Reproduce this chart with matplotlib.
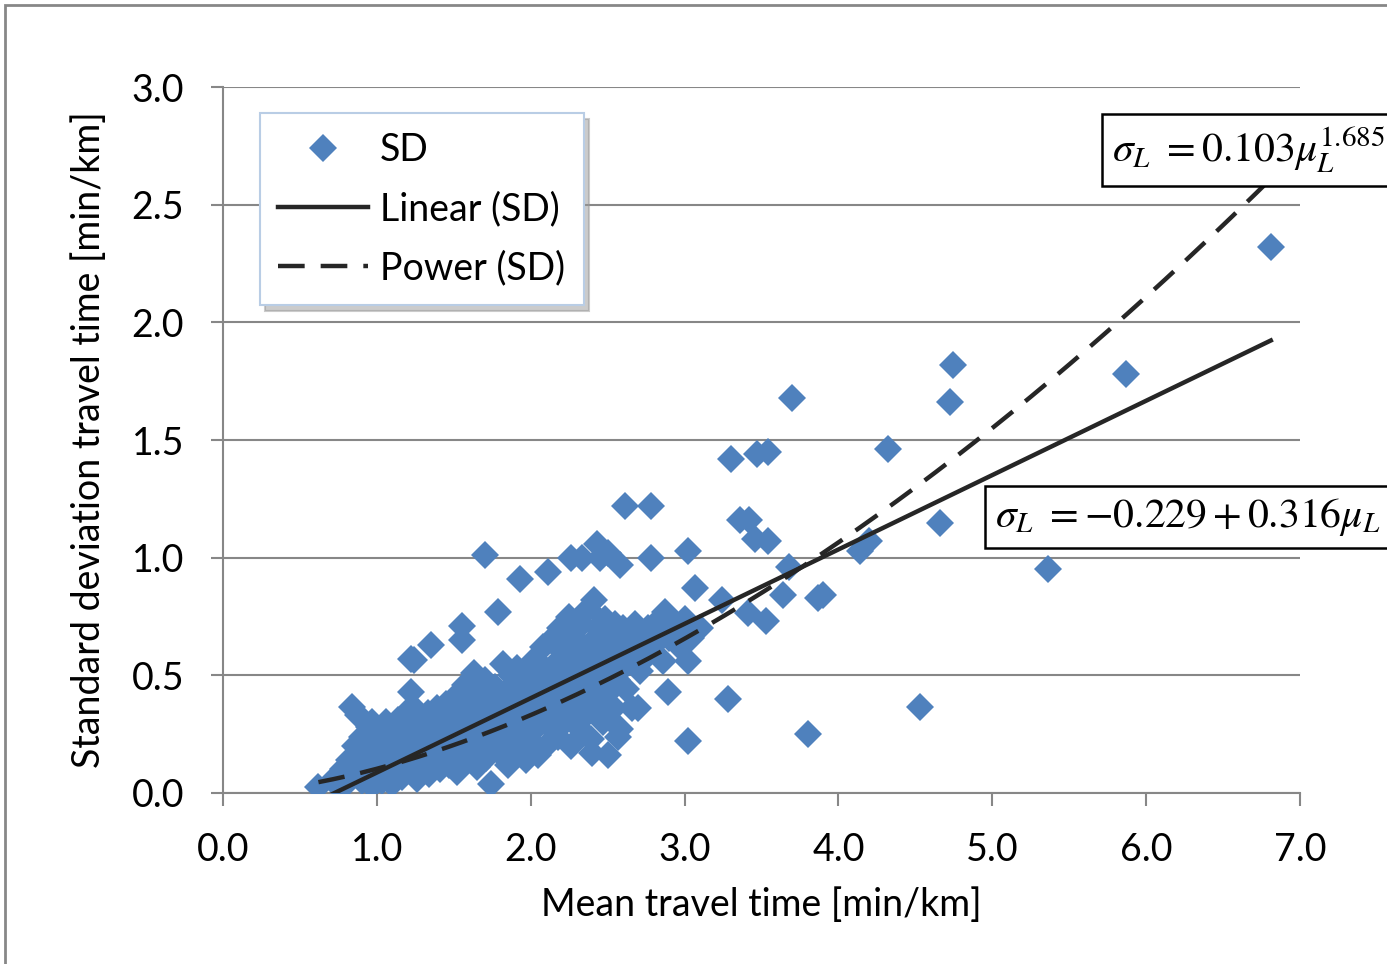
import numpy as np
import matplotlib
matplotlib.use('Agg')
from matplotlib import pyplot as plt
from matplotlib.patches import Rectangle

# mean travel time [min/km]
mean_tt = [
    0.62, 0.72, 0.76, 0.78, 0.80, 0.82, 0.84, 0.85, 0.86, 0.88, 0.88, 0.90, 0.90, 0.92,
    0.93, 0.94, 0.95, 0.96, 0.97, 0.97, 0.98, 0.99,
    1.00, 1.01, 1.02, 1.03, 1.04, 1.05, 1.06, 1.07, 1.08, 1.09, 1.10, 1.11, 1.12, 1.13,
    1.14, 1.15, 1.16, 1.17, 1.18, 1.19, 1.20, 1.21, 1.22, 1.22, 1.24, 1.23, 1.24, 1.25,
    1.26, 1.27, 1.28, 1.29, 1.30, 1.31, 1.32, 1.33, 1.34, 1.35, 1.35, 1.36, 1.37, 1.38,
    1.39, 1.40, 1.41, 1.42, 1.43, 1.44, 1.45, 1.46, 1.47, 1.48, 1.49,
    1.50, 1.51, 1.52, 1.53, 1.54, 1.55, 1.55, 1.55, 1.56, 1.57, 1.58, 1.59, 1.60, 1.61,
    1.62, 1.63, 1.64, 1.65, 1.66, 1.67, 1.68, 1.69, 1.70, 1.70, 1.71, 1.72, 1.73, 1.74,
    1.75, 1.76, 1.77, 1.78, 1.79, 1.80, 1.81, 1.82, 1.83, 1.84, 1.85, 1.86, 1.87, 1.88,
    1.89, 1.90, 1.91, 1.92, 1.93, 1.93, 1.94, 1.95, 1.96, 1.97, 1.98, 1.99,
    2.00, 2.01, 2.02, 2.03, 2.04, 2.05, 2.06, 2.07, 2.08, 2.09, 2.10, 2.11, 2.11, 2.12,
    2.13, 2.14, 2.15, 2.16, 2.17, 2.18, 2.19, 2.20, 2.21, 2.22, 2.23, 2.24, 2.25, 2.26,
    2.26, 2.27, 2.28, 2.29, 2.30, 2.31, 2.32, 2.33, 2.33, 2.34, 2.35, 2.36, 2.37, 2.38,
    2.39, 2.40, 2.40, 2.41, 2.42, 2.43, 2.43, 2.44, 2.45, 2.45, 2.46, 2.47, 2.48, 2.49,
    2.50, 2.50,
    2.51, 2.52, 2.53, 2.54, 2.55, 2.56, 2.57, 2.58, 2.58, 2.59, 2.60, 2.61, 2.61, 2.62,
    2.64, 2.66, 2.67, 2.68, 2.70, 2.71, 2.73, 2.75, 2.76, 2.78, 2.78, 2.79, 2.81, 2.84,
    2.86, 2.87, 2.89, 2.90, 2.92, 2.95, 2.97, 3.00, 3.02, 3.02, 3.02, 3.04, 3.07, 3.10,
    3.24, 3.28,
    3.30, 3.36, 3.42, 3.46, 3.47, 3.54, 3.54, 3.41, 3.53, 3.64, 3.68, 3.70, 3.80, 3.87,
    3.90, 4.14, 4.20, 4.32, 4.53, 4.66, 4.725, 4.745, 5.36, 5.87, 6.81,
]
# standard deviation travel time [min/km]
sd_tt = [
    0.025, 0.06, 0.02, 0.10, 0.04, 0.14, 0.365, 0.08, 0.20, 0.12, 0.33, 0.05, 0.24, 0.16,
    0.07, 0.10, 0.28, 0.20, 0.03, 0.30, 0.14, 0.24,
    0.10, 0.18, 0.26, 0.05, 0.22, 0.14, 0.30, 0.09, 0.20, 0.27, 0.04, 0.16, 0.25, 0.11,
    0.31, 0.19, 0.07, 0.23, 0.14, 0.34, 0.28, 0.10, 0.43, 0.57, 0.565, 0.18, 0.36, 0.24,
    0.06, 0.15, 0.30, 0.21, 0.11, 0.27, 0.17, 0.34, 0.08, 0.63, 0.23, 0.13, 0.29, 0.19,
    0.36, 0.25, 0.10, 0.31, 0.16, 0.21, 0.38, 0.27, 0.12, 0.33, 0.19,
    0.24, 0.41, 0.09, 0.30, 0.17, 0.71, 0.65, 0.36, 0.22, 0.46, 0.13, 0.28, 0.40, 0.19,
    0.33, 0.51, 0.25, 0.11, 0.43, 0.30, 0.20, 0.37, 1.01, 0.48, 0.15, 0.27, 0.41, 0.04,
    0.33, 0.22, 0.45, 0.30, 0.77, 0.17, 0.38, 0.55, 0.26, 0.43, 0.12, 0.34, 0.50, 0.21,
    0.40, 0.29, 0.53, 0.18, 0.91, 0.36, 0.47, 0.25, 0.41, 0.14, 0.32, 0.52,
    0.22, 0.44, 0.36, 0.57, 0.28, 0.16, 0.48, 0.38, 0.62, 0.31, 0.20, 0.94, 0.52, 0.42,
    0.65, 0.27, 0.35, 0.55, 0.46, 0.24, 0.70, 0.39, 0.60, 0.30, 0.50, 0.43, 0.75, 1.00,
    0.20, 0.57, 0.36, 0.66, 0.47, 0.28, 0.53, 1.00, 0.72, 0.40, 0.60, 0.33, 0.78, 0.50,
    0.23, 0.17, 0.64, 0.82, 0.45, 1.06, 0.70, 0.56, 1.00, 0.37, 0.62, 0.30, 0.74, 0.50,
    0.16, 1.02,
    0.43, 0.66, 0.58, 0.36, 0.72, 0.48, 0.24, 0.97, 0.27, 0.62, 0.70, 1.22, 0.54, 0.44,
    0.68, 0.36, 0.60, 0.72, 0.36, 0.52, 0.65, 0.58, 0.70, 1.22, 1.00, 0.62, 0.68, 0.74,
    0.56, 0.77, 0.43, 0.66, 0.72, 0.70, 0.62, 0.74, 0.56, 0.22, 1.03, 0.66, 0.87, 0.70,
    0.82, 0.40,
    1.42, 1.16, 1.16, 1.08, 1.44, 1.45, 1.07, 0.765, 0.73, 0.84, 0.96, 1.68, 0.25, 0.83,
    0.84, 1.03, 1.07, 1.46, 0.365, 1.147, 1.66, 1.82, 0.95, 1.78, 2.32,
]

# trendline coefficients shown on the chart
lin_a, lin_b = -0.229, 0.316
pow_a, pow_b = 0.103, 1.685

blue = '#4F81BD'
gray = '#878787'

plt.rcParams['font.family'] = ['Lato', 'DejaVu Sans']
plt.rcParams['mathtext.fontset'] = 'stix'

fig = plt.figure(figsize=(13.87, 9.64), dpi=100)
ax = fig.add_axes([0.1608, 0.1774, 0.7765, 0.7323])

ax.plot(mean_tt, sd_tt, linestyle='none', marker='D', ms=14.5, color=blue,
        markeredgewidth=0, label='SD', zorder=3)

xs = np.linspace(min(mean_tt), max(mean_tt), 200)
ax.plot(xs, lin_a + lin_b * xs, color='#262626', lw=3.2, label='Linear (SD)', zorder=4)
ax.plot(xs, pow_a * xs ** pow_b, color='#262626', lw=3.2, dashes=(6, 3.6),
        label='Power (SD)', zorder=4)

ax.set_xlim(0, 7)
ax.set_ylim(0, 3)
ax.set_xticks(np.arange(0, 7.01, 1.0))
ax.set_yticks(np.arange(0, 3.01, 0.5))
ax.xaxis.set_major_formatter(matplotlib.ticker.FormatStrFormatter('%.1f'))
ax.yaxis.set_major_formatter(matplotlib.ticker.FormatStrFormatter('%.1f'))
ax.tick_params(axis='both', labelsize=27, length=9, width=1.5, color=gray, pad=19)
ax.grid(axis='y', color=gray, lw=1.5)
ax.set_axisbelow(True)
for s in ['top', 'right']:
    ax.spines[s].set_visible(False)
for s in ['left', 'bottom']:
    ax.spines[s].set_color(gray)
    ax.spines[s].set_linewidth(1.5)

ax.set_xlabel('Mean travel time [min/km]', fontsize=27, labelpad=14)
ax.set_ylabel('Standard deviation travel time [min/km]', fontsize=27, labelpad=18)

leg = ax.legend(loc='upper left', bbox_to_anchor=(0.034, 0.963), fontsize=27,
                handlelength=2.4, handletextpad=0.3, labelspacing=0.62,
                borderpad=0.5, borderaxespad=0, fancybox=False, framealpha=1,
                shadow={'color': '0.6', 'alpha': 0.5, 'ox': 4, 'oy': -4})
leg.get_frame().set_edgecolor('#B9CDE5')
leg.get_frame().set_linewidth(1.5)

box = dict(boxstyle='square,pad=0.25', facecolor='white', edgecolor='black', lw=1.8)
fig.text(0.8017, 0.8444, r'$\sigma_L\ =0.103\mu_L^{1.685}$', fontsize=30,
         ha='left', va='center', bbox=box)
fig.text(0.7174, 0.4637, r'$\sigma_L\ =-0.229+0.316\mu_L$', fontsize=30,
         ha='left', va='center', bbox=box)

# chart area border
fig.patches.append(Rectangle((5 / 1387, -0.1), 1.2, 1.1 - 5 / 964,
                             transform=fig.transFigure, fill=False,
                             edgecolor=gray, lw=2))

fig.savefig('out.png', dpi=100)
